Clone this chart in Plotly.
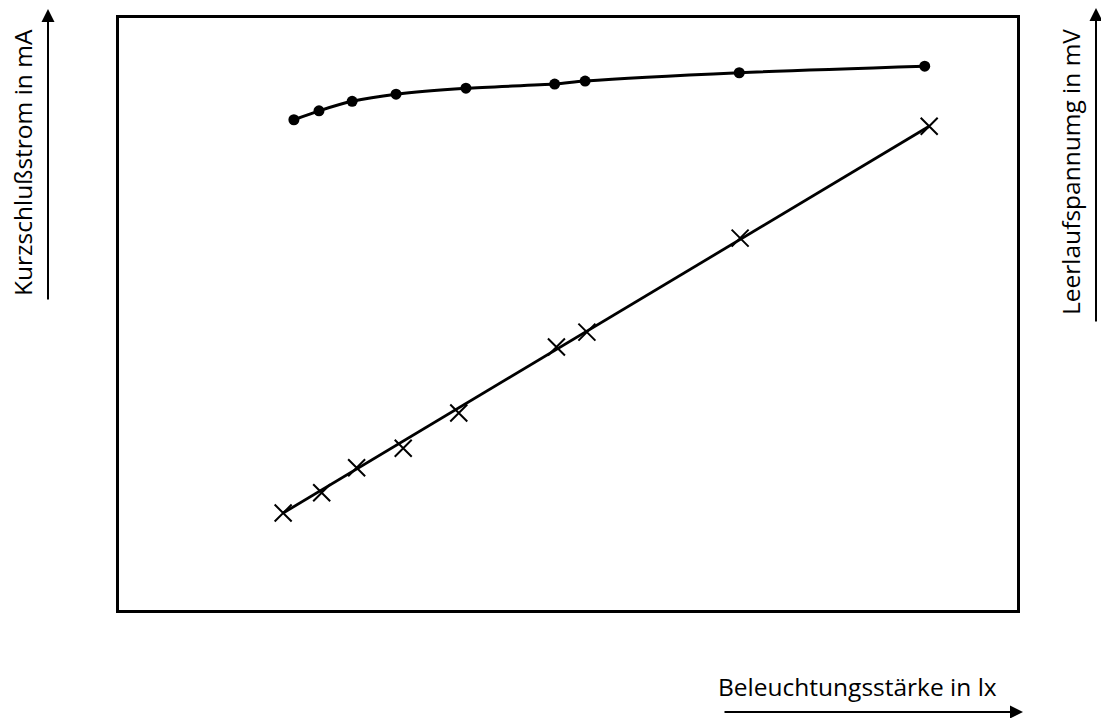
import plotly.graph_objects as go

# Beleuchtungsstärke (relative units, 0..100 across the frame)
lux_voltage = [19.3, 22.1, 25.8, 30.7, 38.5, 48.4, 51.8, 69.0, 89.7]
voltage_mv = [82.4, 83.9, 85.5, 86.7, 87.7, 88.4, 88.9, 90.3, 91.4]

lux_current = [18.1, 22.4, 26.3, 31.5, 37.7, 48.6, 52.0, 69.1, 90.2]
current_ma = [16.3, 19.7, 23.9, 27.2, 33.1, 44.2, 46.7, 62.5, 81.3]

# straight characteristic line drawn through the crosses
fit_lux = [18.1, 90.2]
fit_current = [16.3, 81.3]

label_y_left = "Kurzschlußstrom in mA"
label_y_right = "Leerlaufspannumg in mV"
label_x = "Beleuchtungsstärke in lx"

W, H = 1101, 718
L, R, T, B = 119, 84, 18, 108
pw, ph = W - L - R, H - T - B


def px(x):
    return (x - L) / pw


def py(y):
    return (H - B - y) / ph


fig = go.Figure()
fig.add_trace(go.Scatter(
    x=lux_voltage, y=voltage_mv, mode="lines+markers",
    line=dict(color="black", width=3, shape="spline", smoothing=0.8),
    marker=dict(symbol="circle", size=11, color="black"),
    showlegend=False))
fig.add_trace(go.Scatter(
    x=fit_lux, y=fit_current, mode="lines",
    line=dict(color="black", width=2.8),
    showlegend=False))
fig.add_trace(go.Scatter(
    x=lux_current, y=current_ma, mode="markers",
    marker=dict(symbol="x-thin", size=17, line=dict(width=2, color="black")),
    showlegend=False))

axis_common = dict(showgrid=False, zeroline=False, showticklabels=False, ticks="",
                   showline=True, mirror=True, linecolor="black", linewidth=3)
fig.update_xaxes(range=[-0.22, 100], **axis_common)
fig.update_yaxes(range=[0, 99.5], **axis_common)

font = dict(family="Open Sans, sans-serif", size=24.5, color="black")
ann = []
# Left label and arrow
ann.append(dict(x=px(22), y=py(163), xref="paper", yref="paper", text=label_y_left,
                textangle=-90, showarrow=False, font=font, xanchor="center", yanchor="middle"))
ann.append(dict(x=px(48), y=py(9), xref="paper", yref="paper", text="", showarrow=True,
                ax=0, ay=292, axref="pixel", ayref="pixel", arrowhead=2, arrowsize=1.3,
                arrowwidth=2, arrowcolor="black"))
# Right label and arrow
ann.append(dict(x=px(1071), y=py(172), xref="paper", yref="paper", text=label_y_right,
                textangle=-90, showarrow=False, font=font, xanchor="center", yanchor="middle"))
ann.append(dict(x=px(1096), y=py(8), xref="paper", yref="paper", text="", showarrow=True,
                ax=0, ay=315, axref="pixel", ayref="pixel", arrowhead=2, arrowsize=1.3,
                arrowwidth=2, arrowcolor="black"))
# Bottom label and arrow
ann.append(dict(x=px(857), y=py(686), xref="paper", yref="paper", text=label_x,
                showarrow=False, font=font, xanchor="center", yanchor="middle"))
ann.append(dict(x=px(1023), y=py(712), xref="paper", yref="paper", text="", showarrow=True,
                ax=-300, ay=0, axref="pixel", ayref="pixel", arrowhead=2, arrowsize=1.3,
                arrowwidth=2, arrowcolor="black"))

fig.update_layout(width=W, height=H, margin=dict(l=L, r=R, t=T, b=B),
                  paper_bgcolor="white", plot_bgcolor="white", annotations=ann)

fig.write_html("out.html", config={"displayModeBar": False},
               post_script="document.body.style.margin='0px';document.body.style.overflow='hidden';")
